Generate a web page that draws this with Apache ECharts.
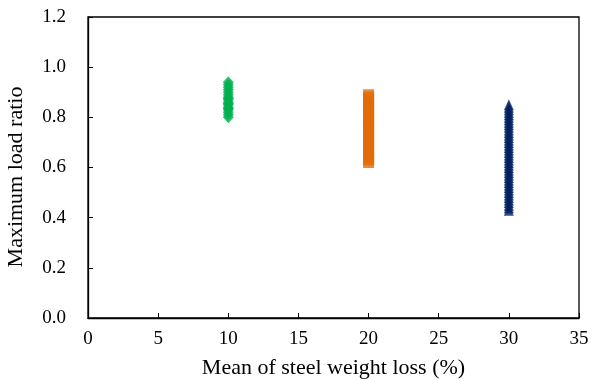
<!DOCTYPE html>
<html>
<head>
<meta charset="utf-8">
<script src="https://cdn.jsdelivr.net/npm/echarts@6/dist/echarts.min.js"></script>
<style>
  html, body { margin: 0; padding: 0; background: #fff; }
  #chart { width: 595px; height: 380px; }
</style>
</head>
<body>
<div id="chart"></div>
<script>
// loss 10 %, 20 %, 30 % groups
var loss10 = [0.80, 0.81, 0.82, 0.83, 0.835, 0.84, 0.85, 0.855, 0.86, 0.87, 0.875, 0.88, 0.89, 0.90, 0.91, 0.92, 0.93, 0.94];
var loss20 = [0.62, 0.63, 0.64, 0.65, 0.66, 0.67, 0.68, 0.69, 0.70, 0.71, 0.72, 0.73, 0.74, 0.75, 0.76, 0.77, 0.78, 0.79, 0.80, 0.81, 0.82, 0.83, 0.84, 0.85, 0.86, 0.87, 0.88, 0.89];
var loss30 = [0.43, 0.44, 0.45, 0.46, 0.47, 0.48, 0.49, 0.50, 0.51, 0.52, 0.53, 0.54, 0.55, 0.56, 0.57, 0.58, 0.59, 0.60, 0.61, 0.62, 0.63, 0.64, 0.65, 0.66, 0.67, 0.68, 0.69, 0.70, 0.71, 0.72, 0.73, 0.74, 0.75, 0.76, 0.77, 0.78, 0.79, 0.80, 0.81, 0.82, 0.83, 0.84, 0.85];

function pts(x, arr) {
  var out = [];
  arr.forEach(function (v) { out.push([x, v]); });
  return out;
}

var chart = echarts.init(document.getElementById('chart'));
var font = 'Liberation Serif';
chart.setOption({
  animation: false,
  grid: { left: 88, right: 16, top: 17, bottom: 62, outerBoundsMode: 'none', containLabel: false,
    show: true, borderColor: '#000', borderWidth: 1.3 },
  xAxis: {
    type: 'value', min: 0, max: 35, interval: 5,
    name: 'Mean of steel weight loss (%)', nameLocation: 'middle', nameGap: 39,
    nameTextStyle: { fontFamily: font, fontSize: 22, color: '#000' },
    axisLine: { lineStyle: { color: '#000', width: 1.3 } },
    axisTick: { inside: true, length: 5, lineStyle: { color: '#000' } },
    axisLabel: { fontFamily: font, fontSize: 19, color: '#000', margin: 12 },
    splitLine: { show: false }
  },
  yAxis: {
    type: 'value', min: 0, max: 1.2, interval: 0.2,
    name: 'Maximum load ratio', nameLocation: 'middle', nameGap: 61,
    nameTextStyle: { fontFamily: font, fontSize: 22, color: '#000', padding: [0, 19, 0, 0] },
    axisLine: { show: true, lineStyle: { color: '#000', width: 1.3 } },
    axisTick: { show: true, inside: true, length: 5, lineStyle: { color: '#000' } },
    axisLabel: { fontFamily: font, fontSize: 19, color: '#000', margin: 22,
      formatter: function (v) { return v.toFixed(1); } },
    splitLine: { show: false }
  },
  series: [
    { type: 'scatter', data: pts(10, loss10), symbol: 'diamond', symbolSize: [11, 12], itemStyle: { color: '#00B050' } },
    { type: 'scatter', data: pts(20, loss20), symbol: 'rect', symbolSize: 11, itemStyle: { color: '#E36C09' } },
    { type: 'scatter', data: pts(30, loss30), symbol: 'triangle', symbolSize: [10, 11], itemStyle: { color: '#002060' } }
  ]
});
</script>
</body>
</html>
